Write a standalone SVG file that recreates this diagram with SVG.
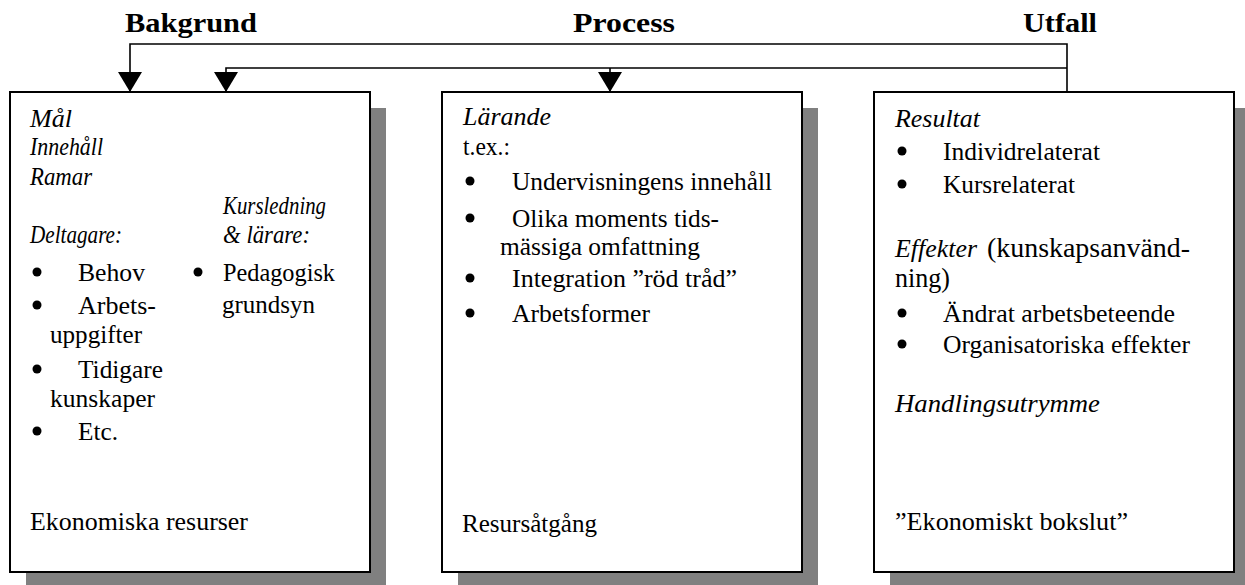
<svg xmlns="http://www.w3.org/2000/svg" width="1245" height="585" viewBox="0 0 1245 585">
  <style>
    text { font-family: "Liberation Serif", "Times New Roman", serif; fill: #000; }
    .t { font-size: 25px; }
    .i { font-style: italic; }
    .h { font-size: 28px; font-weight: bold; text-anchor: middle; }
    .big { font-size: 27px; }
    .box { fill: #fff; stroke: #000; stroke-width: 2; }
    .shadow { fill: #808080; }
    .link { fill: none; stroke: #000; stroke-width: 1.6; }
  </style>
  <defs>
    <marker id="arrow" markerUnits="userSpaceOnUse" markerWidth="20" markerHeight="24" viewBox="0 0 20 24" refX="20" refY="12" orient="auto">
      <path d="M0,0 L20,12 L0,24 z" fill="#000"/>
    </marker>
    <circle id="dot" r="4.5" fill="#000"/>
  </defs>

  <rect width="1245" height="585" fill="#fff"/>

  <!-- column headings -->
  <g id="headings">
    <text class="h" x="191" y="32" textLength="132" lengthAdjust="spacingAndGlyphs">Bakgrund</text>
    <text class="h" x="624" y="32" textLength="102" lengthAdjust="spacingAndGlyphs">Process</text>
    <text class="h" x="1060" y="32" textLength="74" lengthAdjust="spacingAndGlyphs">Utfall</text>
  </g>

  <!-- feedback connectors from Utfall -->
  <g id="connectors">
    <polyline class="link" points="1067,92 1067,44 130,44 130,92" marker-end="url(#arrow)"/>
    <polyline class="link" points="1067,68 226,68 226,92" marker-end="url(#arrow)"/>
    <line class="link" x1="610" y1="68" x2="610" y2="92" marker-end="url(#arrow)"/>
  </g>

  <!-- Bakgrund -->
  <g id="bakgrund">
    <rect class="shadow" x="26" y="108" width="360" height="480"/>
    <rect class="box" x="10" y="92" width="360" height="480"/>
    <text class="t i" x="30" y="127" textLength="42" lengthAdjust="spacingAndGlyphs">Mål</text>
    <text class="t i" x="30" y="155" textLength="73" lengthAdjust="spacingAndGlyphs">Innehåll</text>
    <text class="t i" x="30" y="185" textLength="62" lengthAdjust="spacingAndGlyphs">Ramar</text>
    <text class="t i" x="223" y="214" textLength="103" lengthAdjust="spacingAndGlyphs">Kursledning</text>
    <text class="t i" x="30" y="243" textLength="92" lengthAdjust="spacingAndGlyphs">Deltagare:</text>
    <text class="t i" x="223" y="243" textLength="87" lengthAdjust="spacingAndGlyphs">&amp; lärare:</text>
    <use href="#dot" x="37" y="272"/>
    <text class="t" x="78" y="281" textLength="67" lengthAdjust="spacingAndGlyphs">Behov</text>
    <use href="#dot" x="198" y="272"/>
    <text class="t" x="223" y="281" textLength="112" lengthAdjust="spacingAndGlyphs">Pedagogisk</text>
    <use href="#dot" x="37" y="305"/>
    <text class="t" x="78" y="314" textLength="78" lengthAdjust="spacingAndGlyphs">Arbets-</text>
    <text class="t" x="222" y="313" textLength="93" lengthAdjust="spacingAndGlyphs">grundsyn</text>
    <text class="t" x="50" y="343" textLength="92" lengthAdjust="spacingAndGlyphs">uppgifter</text>
    <use href="#dot" x="37" y="369"/>
    <text class="t" x="78" y="378" textLength="85" lengthAdjust="spacingAndGlyphs">Tidigare</text>
    <text class="t" x="50" y="407" textLength="105" lengthAdjust="spacingAndGlyphs">kunskaper</text>
    <use href="#dot" x="37" y="431"/>
    <text class="t" x="78" y="440" textLength="40" lengthAdjust="spacingAndGlyphs">Etc.</text>
    <text class="t" x="30" y="530" textLength="218" lengthAdjust="spacingAndGlyphs">Ekonomiska resurser</text>
  </g>

  <!-- Process -->
  <g id="process">
    <rect class="shadow" x="458" y="108" width="360" height="480"/>
    <rect class="box" x="442" y="92" width="360" height="480"/>
    <text class="t i" x="463" y="125" textLength="88" lengthAdjust="spacingAndGlyphs">Lärande</text>
    <text class="t" x="463" y="155" textLength="47" lengthAdjust="spacingAndGlyphs">t.ex.:</text>
    <use href="#dot" x="470" y="181"/>
    <text class="t" x="512" y="190" textLength="260" lengthAdjust="spacingAndGlyphs">Undervisningens innehåll</text>
    <use href="#dot" x="470" y="218"/>
    <text class="t" x="512" y="227" textLength="207" lengthAdjust="spacingAndGlyphs">Olika moments tids-</text>
    <text class="t" x="500" y="255" textLength="200" lengthAdjust="spacingAndGlyphs">mässiga omfattning</text>
    <use href="#dot" x="470" y="278"/>
    <text class="t" x="512" y="287" textLength="225" lengthAdjust="spacingAndGlyphs">Integration ”röd tråd”</text>
    <use href="#dot" x="470" y="313"/>
    <text class="t" x="512" y="322" textLength="138" lengthAdjust="spacingAndGlyphs">Arbetsformer</text>
    <text class="t" x="462" y="532" textLength="135" lengthAdjust="spacingAndGlyphs">Resursåtgång</text>
  </g>

  <!-- Utfall -->
  <g id="utfall">
    <rect class="shadow" x="890" y="108" width="360" height="480"/>
    <rect class="box" x="874" y="92" width="360" height="480"/>
    <text class="t i" x="895" y="127" textLength="85" lengthAdjust="spacingAndGlyphs">Resultat</text>
    <use href="#dot" x="902" y="151"/>
    <text class="t" x="943" y="160" textLength="157" lengthAdjust="spacingAndGlyphs">Individrelaterat</text>
    <use href="#dot" x="902" y="184"/>
    <text class="t" x="943" y="193" textLength="132" lengthAdjust="spacingAndGlyphs">Kursrelaterat</text>
    <text class="t i" x="895" y="257" textLength="82" lengthAdjust="spacingAndGlyphs">Effekter</text>
    <text class="big" x="987" y="257" textLength="203" lengthAdjust="spacingAndGlyphs">(kunskapsanvänd-</text>
    <text class="big" x="895" y="287" textLength="55" lengthAdjust="spacingAndGlyphs">ning)</text>
    <use href="#dot" x="902" y="313"/>
    <text class="t" x="943" y="322" textLength="232" lengthAdjust="spacingAndGlyphs">Ändrat arbetsbeteende</text>
    <use href="#dot" x="902" y="344"/>
    <text class="t" x="943" y="353" textLength="247" lengthAdjust="spacingAndGlyphs">Organisatoriska effekter</text>
    <text class="t i" x="895" y="412" textLength="205" lengthAdjust="spacingAndGlyphs">Handlingsutrymme</text>
    <text class="t" x="895" y="530" textLength="233" lengthAdjust="spacingAndGlyphs">”Ekonomiskt bokslut”</text>
  </g>
</svg>
